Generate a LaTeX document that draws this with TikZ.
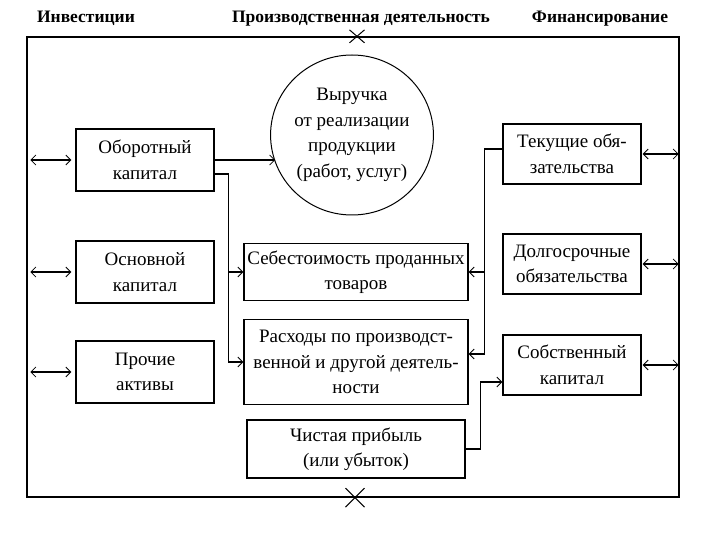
\documentclass[tikz,border=0pt]{standalone}
\usepackage{fontspec}
\setmainfont{Liberation Serif}
\usepackage{tikz}
\usetikzlibrary{shapes.geometric, shapes.misc}
\usetikzlibrary{arrows.meta}
\usetikzlibrary{positioning}
\newcommand{\boxfont}{\fontsize{19}{25.5}\selectfont}
\newcommand{\headfont}{\fontsize{17.5}{19}\selectfont\bfseries}
\tikzstyle{head} = [font=\headfont, inner sep=0pt, anchor=base]
\tikzstyle{block} = [rectangle, draw=black, line width=1.3pt, text centered, align=center, font=\boxfont, inner sep=1pt]
\tikzstyle{asset} = [block, minimum width=138pt, minimum height=62pt]
\tikzstyle{cost} = [block, minimum width=224pt]
\tikzstyle{fin} = [block, minimum width=138pt, minimum height=60pt]
\tikzstyle{revenue} = [ellipse, draw=black, line width=1pt, minimum width=130pt, minimum height=160pt, inner sep=0pt, align=center, font=\boxfont]
\tikzstyle{crossmark} = [cross out, draw=black, line width=1pt, inner sep=0pt]
\tikzstyle{arrow} = [line width=1.3pt, -{Straight Barb[length=5pt,width=10pt,line width=0.8pt]}]
\tikzstyle{dblarrow} = [line width=1.3pt, {Straight Barb[length=5pt,width=10pt,line width=0.8pt]}-{Straight Barb[length=5pt,width=10pt,line width=0.8pt]}]

\begin{document}
\begin{tikzpicture}[x=1pt, y=-1pt, node distance=110pt]
    \useasboundingbox (0,0) rectangle (720,540);

    \node (frame) [draw=black, line width=1.3pt, minimum width=652pt, minimum height=460pt, inner sep=0pt] at (353,267) {};
    \node (invest) [head] at (86,23) {Инвестиции};
    \node (prod) [head] at (361,23) {Производственная деятельность};
    \node (finance) [head] at (600,23) {Финансирование};
    \node (xtop) [crossmark, minimum width=14pt, minimum height=12pt, xshift=4pt] at (frame.north) {};
    \node (xbot) [crossmark, minimum size=18pt, xshift=2pt] at (frame.south) {};

    % investments
    \node (oborot) [asset] at (145,160) {Оборотный\\капитал};
    \node (osnov) [asset, below of=oborot, yshift=-2pt] {Основной\\капитал};
    \node (proch) [asset, below of=osnov, yshift=10pt] {Прочие\\активы};

    % production
    \node (vyr) [revenue] at (352,135) {Выручка\\от реализации\\продукции\\(работ, услуг)};
    \node (sebes) [cost, minimum height=57pt] at (356,272) {Себестоимость проданных\\товаров};
    \node (rasx) [cost, minimum height=85pt, below of=sebes, yshift=20pt] {Расходы по производст-\\венной и другой деятель-\\ности};
    \node (chist) [cost, minimum width=218pt, minimum height=58pt, below of=rasx, yshift=23pt] {Чистая прибыль\\(или убыток)};

    % financing
    \node (tek) [fin] at (572,154) {Текущие обя-\\зательства};
    \node (dolg) [fin, below of=tek] {Долгосрочные\\обязательства};
    \node (sobst) [fin, below of=dolg, yshift=9pt] {Собственный\\капитал};

    \coordinate (split) at ([xshift=14pt,yshift=-14pt]oborot.east);
    \coordinate (join) at ([xshift=-18pt,yshift=5pt]tek.west);
    \coordinate (rise) at ([xshift=15pt]chist.east);

    \draw [arrow] (oborot.east) -- (oborot.east -| vyr.200);
    \draw [arrow] ([yshift=-14pt]oborot.east) -- (split) |- (rasx.west);
    \draw [arrow] (split |- sebes.west) -- (sebes.west);
    \draw [arrow] ([yshift=5pt]tek.west) -- (join) |- ([yshift=8pt]rasx.east);
    \draw [arrow] (join |- sebes.east) -- (sebes.east);
    \draw [arrow] (chist.east) -- (rise) |- ([yshift=-17pt]sobst.west);

    \draw [dblarrow, shorten <=4pt, shorten >=4pt] (frame.west |- oborot.west) -- (oborot.west);
    \draw [dblarrow, shorten <=4pt, shorten >=4pt] (frame.west |- osnov.west) -- (osnov.west);
    \draw [dblarrow, shorten <=4pt, shorten >=4pt] (frame.west |- proch.west) -- (proch.west);
    \draw [dblarrow, shorten <=1pt, shorten >=1pt] (tek.east) -- (frame.east |- tek.east);
    \draw [dblarrow, shorten <=1pt, shorten >=1pt] (dolg.east) -- (frame.east |- dolg.east);
    \draw [dblarrow, shorten <=1pt, shorten >=1pt] (sobst.east) -- (frame.east |- sobst.east);
\end{tikzpicture}
\end{document}
